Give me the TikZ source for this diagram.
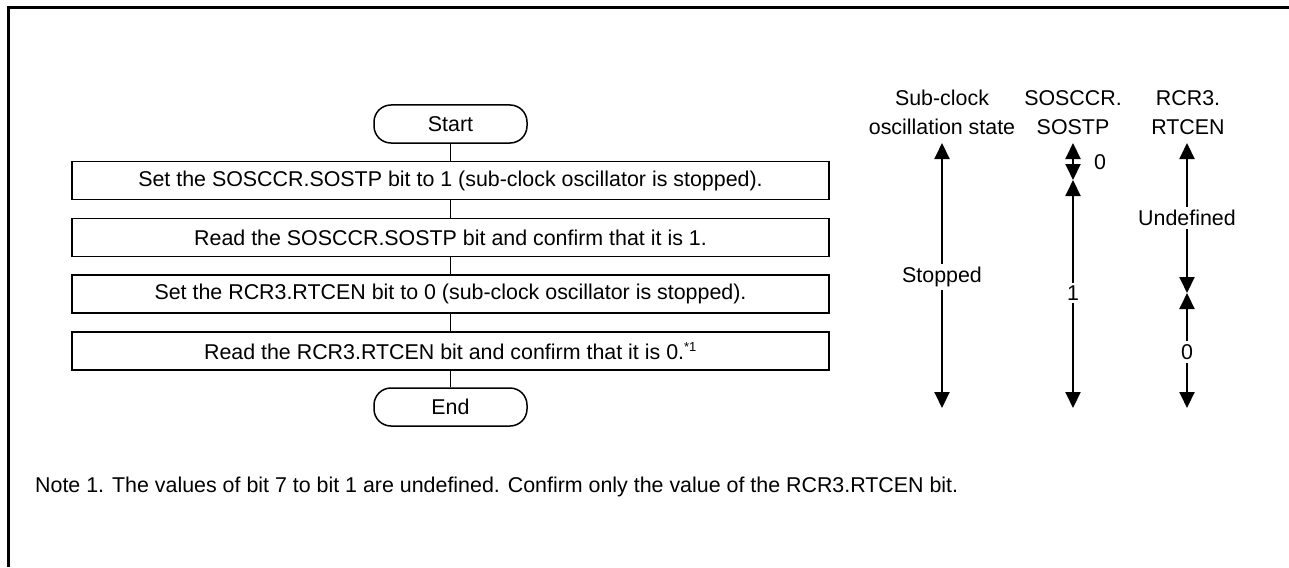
\documentclass[tikz,border=0pt]{standalone}
\usepackage{fontspec}
\setmainfont{Liberation Sans}
\usetikzlibrary{arrows.meta}
\begin{document}
\begin{tikzpicture}[x=1pt,y=-1pt,
  every node/.style={font=\fontsize{21.4}{29}\selectfont, inner sep=0pt},
  procbox/.style={draw, line width=1.5pt, minimum width=757pt, minimum height=38pt},
  termbox/.style={draw, line width=1.5pt, rounded corners=17pt, minimum width=153pt, minimum height=38pt},
  flow/.style={line width=1.5pt},
  dbl/.style={line width=2pt, {Triangle[width=15pt,length=16pt]}-{Triangle[width=15pt,length=16pt]}},
  lbl/.style={fill=white, inner sep=3pt},
  head/.style={align=center}]
\useasboundingbox (0,0) rectangle (1289,567);
% frame
\draw[line width=3pt] (8,567) -- (8,8) -- (1289,8);
% flowchart
\node[termbox] (start) at (450.5,124) {Start};
\node[procbox] (b1) at (450.5,180.5) {Set the SOSCCR.SOSTP bit to 1 (sub-clock oscillator is stopped).};
\node[procbox] (b2) at (450.5,237.5) {Read the SOSCCR.SOSTP bit and confirm that it is 1.};
\node[procbox] (b3) at (450.5,294) {Set the RCR3.RTCEN bit to 0 (sub-clock oscillator is stopped).};
\node[procbox] (b4) at (450.5,351) {Read the RCR3.RTCEN bit and confirm that it is 0.\textsuperscript{\fontsize{13}{13}\selectfont *1}};
\node[termbox] (end) at (450.5,407) {End};
\draw[flow] (start) -- (b1);
\draw[flow] (b1) -- (b2);
\draw[flow] (b2) -- (b3);
\draw[flow] (b3) -- (b4);
\draw[flow] (b4) -- (end);
% headers
\node[head] (h1) at (942,112.5) {Sub-clock\\oscillation state};
\node[head] (h2) at (1073,112.5) {SOSCCR.\\SOSTP};
\node[head] (h3) at (1188,112.5) {RCR3.\\RTCEN};
% column 1
\coordinate (c1t) at (942,143);
\coordinate (c1b) at (942,408);
\draw[dbl] (c1t) -- (c1b);
\node[lbl] (s1) at (942,277) {Stopped};
% column 2
\coordinate (c2t) at (1073,143);
\coordinate (c2m) at (1073,180);
\coordinate (c2b) at (1073,408);
\draw[dbl] (c2t) -- (c2m);
\draw[dbl] (c2m) -- (c2b);
\node (z2) at (1100,162) {0};
\node[lbl] (o2) at (1073,293) {1};
% column 3
\coordinate (c3t) at (1187,143);
\coordinate (c3m) at (1187,293);
\coordinate (c3b) at (1187,408);
\draw[dbl] (c3t) -- (c3m);
\draw[dbl] (c3m) -- (c3b);
\node[lbl] (u3) at (1187,218) {Undefined};
\node[lbl] (z3) at (1187,352) {0};
% note
\node[anchor=west] (note) at (35,487) {Note 1. The values of bit 7 to bit 1 are undefined. Confirm only the value of the RCR3.RTCEN bit.};
\end{tikzpicture}
\end{document}
